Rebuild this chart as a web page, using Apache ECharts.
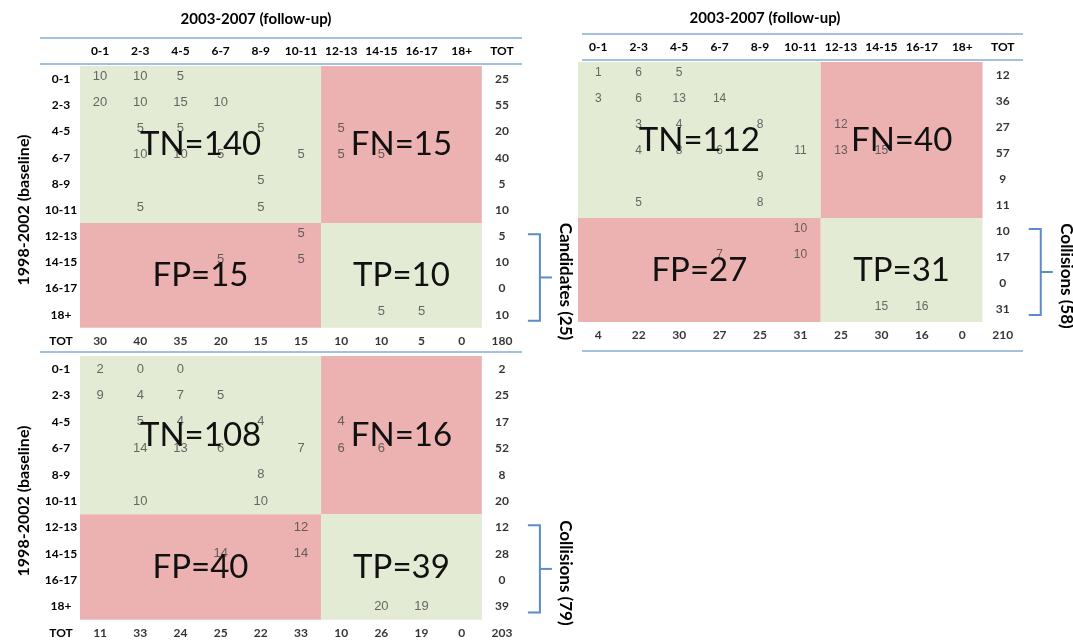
<!DOCTYPE html>
<html>
<head>
<meta charset="utf-8">
<script src="https://cdn.jsdelivr.net/npm/echarts@6.0.0/dist/echarts.min.js"></script>
<style>
  html, body { margin: 0; padding: 0; background: #fff; }
  #main { width: 1073px; height: 643px; }
</style>
</head>
<body>
<div id="main"></div>
<script>
var _ = null;

// age bands used for both axes (follow-up columns, baseline rows)
var ageBands = ['0-1', '2-3', '4-5', '6-7', '8-9', '10-11', '12-13', '14-15', '16-17', '18+', 'TOT'];
var followUpTitle = '2003-2007 (follow-up)';
var baselineTitle = '1998-2002 (baseline)';
var quadNames = ['TN', 'FN', 'FP', 'TP'];

// table 1 (top left)
var cellsA = [
  [10, 10, 5, _, _, _, _, _, _, _],
  [20, 10, 15, 10, _, _, _, _, _, _],
  [_, 5, 5, _, 5, _, 5, _, _, _],
  [_, 10, 10, 5, _, 5, 5, 5, _, _],
  [_, _, _, _, 5, _, _, _, _, _],
  [_, 5, _, _, 5, _, _, _, _, _],
  [_, _, _, _, _, 5, _, _, _, _],
  [_, _, _, 5, _, 5, _, _, _, _],
  [_, _, _, _, _, _, _, _, _, _],
  [_, _, _, _, _, _, _, 5, 5, _]
];
var rowTotA = [25, 55, 20, 40, 5, 10, 5, 10, 0, 10];
var colTotA = [30, 40, 35, 20, 15, 15, 10, 10, 5, 0];
var grandA = 180;
var quadA = [140, 15, 15, 10];
var braceA = 'Candidates (25)';

// table 2 (top right)
var cellsB = [
  [1, 6, 5, _, _, _, _, _, _, _],
  [3, 6, 13, 14, _, _, _, _, _, _],
  [_, 3, 4, _, 8, _, 12, _, _, _],
  [_, 4, 8, 6, _, 11, 13, 15, _, _],
  [_, _, _, _, 9, _, _, _, _, _],
  [_, 5, _, _, 8, _, _, _, _, _],
  [_, _, _, _, _, 10, _, _, _, _],
  [_, _, _, 7, _, 10, _, _, _, _],
  [_, _, _, _, _, _, _, _, _, _],
  [_, _, _, _, _, _, _, 15, 16, _]
];
var rowTotB = [12, 36, 27, 57, 9, 11, 10, 17, 0, 31];
var colTotB = [4, 22, 30, 27, 25, 31, 25, 30, 16, 0];
var grandB = 210;
var quadB = [112, 40, 27, 31];
var braceB = 'Collisions (58)';

// table 3 (bottom left)
var cellsC = [
  [2, 0, 0, _, _, _, _, _, _, _],
  [9, 4, 7, 5, _, _, _, _, _, _],
  [_, 5, 4, _, 4, _, 4, _, _, _],
  [_, 14, 13, 6, _, 7, 6, 6, _, _],
  [_, _, _, _, 8, _, _, _, _, _],
  [_, 10, _, _, 10, _, _, _, _, _],
  [_, _, _, _, _, 12, _, _, _, _],
  [_, _, _, 14, _, 14, _, _, _, _],
  [_, _, _, _, _, _, _, _, _, _],
  [_, _, _, _, _, _, _, 20, 19, _]
];
var rowTotC = [2, 25, 17, 52, 8, 20, 12, 28, 0, 39];
var colTotC = [11, 33, 24, 25, 22, 33, 10, 26, 19, 0];
var grandC = 203;
var quadC = [108, 16, 40, 39];
var braceC = 'Collisions (79)';

// quadrant blocks in category indices: [c0, r0, c1, r1]
var quadBlocks = [[0, 0, 5, 5], [6, 0, 9, 5], [0, 6, 5, 9], [6, 6, 9, 9]];
var quadFill = ['#e3ebd4', '#ecb2b1', '#ecb2b1', '#e3ebd4'];
var braceRows = [6, 9];

var tables = [
  { cells: cellsA, rowTot: rowTotA, colTot: colTotA, grand: grandA, quad: quadA, brace: braceA,
    grid: { left: 80, top: 66, width: 442, height: 288 }, showX: true, showY: true, cellFont: 13, dy: -3 },
  { cells: cellsB, rowTot: rowTotB, colTot: colTotB, grand: grandB, quad: quadB, brace: braceB,
    grid: { left: 578, top: 62, width: 445, height: 286 }, showX: true, showY: false, cellFont: 12, dy: -2 },
  { cells: cellsC, rowTot: rowTotC, colTot: colTotC, grand: grandC, quad: quadC, brace: braceC,
    grid: { left: 80, top: 356, width: 442, height: 290 }, showX: false, showY: true, cellFont: 13, dy: 0 }
];

var headFont = 'Lato, "Open Sans", sans-serif';
var cellFontFamily = '"Liberation Sans", Arial, sans-serif';

var grids = [], xAxes = [], yAxes = [], series = [];

tables.forEach(function (t, i) {
  grids.push(Object.assign({ outerBoundsMode: 'none', containLabel: false }, t.grid));

  xAxes.push({
    type: 'category', gridIndex: i, position: 'top', data: ageBands,
    axisLine: { show: false }, axisTick: { show: false }, splitLine: { show: false },
    axisLabel: { show: t.showX, interval: 0, margin: 9, fontWeight: 'bold', fontSize: 12,
      color: '#000', fontFamily: headFont }
  });

  yAxes.push({
    type: 'category', gridIndex: i, inverse: true, data: ageBands,
    axisLine: { show: false }, axisTick: { show: false }, splitLine: { show: false },
    axisLabel: { show: t.showY, interval: 0, align: 'center', margin: 19, fontWeight: 'bold',
      fontSize: 12, color: '#000', fontFamily: headFont },
    name: t.showY ? baselineTitle : '', nameLocation: 'middle', nameRotate: 90, nameGap: 48,
    nameTextStyle: { fontWeight: 'bold', fontSize: 16, color: '#000', fontFamily: headFont }
  });

  // coloured quadrants
  series.push({
    type: 'custom', xAxisIndex: i, yAxisIndex: i, z: 1, silent: true, clip: false,
    encode: { x: [0, 2], y: [1, 3] },
    data: quadBlocks,
    renderItem: function (params, api) {
      var a = api.coord([api.value(0), api.value(1)]);
      var b = api.coord([api.value(2), api.value(3)]);
      var s = api.size([1, 1]);
      return {
        type: 'rect',
        shape: { x: a[0] - s[0] / 2, y: a[1] - s[1] / 2, width: b[0] - a[0] + s[0], height: b[1] - a[1] + s[1] },
        style: { fill: quadFill[params.dataIndex] }
      };
    }
  });

  // cell counts
  var pts = [];
  t.cells.forEach(function (row, r) {
    row.forEach(function (v, c) { if (v !== null) pts.push([c, r, v]); });
  });
  series.push({
    type: 'scatter', xAxisIndex: i, yAxisIndex: i, z: 3, silent: true,
    symbolSize: 1, itemStyle: { color: 'rgba(0,0,0,0)' },
    label: { show: true, position: 'inside', offset: [0, t.dy], color: '#454545',
      fontSize: t.cellFont, fontFamily: cellFontFamily,
      formatter: function (p) { return p.value[2]; } },
    data: pts
  });

  // totals
  var tots = t.rowTot.map(function (v, r) { return [10, r, v]; })
    .concat(t.colTot.map(function (v, c) { return [c, 10, v]; }))
    .concat([[10, 10, t.grand]]);
  series.push({
    type: 'scatter', xAxisIndex: i, yAxisIndex: i, z: 3, silent: true,
    symbolSize: 1, itemStyle: { color: 'rgba(0,0,0,0)' },
    label: { show: true, position: 'inside', color: '#000', fontWeight: 'bold',
      fontSize: 12, fontFamily: headFont,
      formatter: function (p) { return p.value[2]; } },
    data: tots
  });

  // big quadrant labels
  series.push({
    type: 'custom', xAxisIndex: i, yAxisIndex: i, z: 5, silent: true, clip: false,
    encode: { x: [0, 2], y: [1, 3] },
    data: quadBlocks,
    renderItem: function (params, api) {
      var a = api.coord([api.value(0), api.value(1)]);
      var b = api.coord([api.value(2), api.value(3)]);
      return {
        type: 'text',
        x: (a[0] + b[0]) / 2, y: (a[1] + b[1]) / 2,
        style: { text: quadNames[params.dataIndex] + '=' + t.quad[params.dataIndex],
          fill: '#111', fontSize: 33, fontFamily: headFont, align: 'center', verticalAlign: 'middle' }
      };
    }
  });

  // brace + caption
  series.push({
    type: 'custom', xAxisIndex: i, yAxisIndex: i, z: 4, silent: true, clip: false,
    encode: { x: 0, y: [1, 2] },
    data: [[10, braceRows[0], braceRows[1]]],
    renderItem: function (params, api) {
      var p0 = api.coord([api.value(0), api.value(1)]);
      var p1 = api.coord([api.value(0), api.value(2)]);
      var x0 = p0[0] + 26, x1 = x0 + 12, x2 = x1 + 12;
      var yt = p0[1] - 2, yb = p1[1] + 6, ym = (yt + yb) / 2;
      var st = { stroke: '#5b8cc8', lineWidth: 2, fill: null };
      return {
        type: 'group',
        children: [
          { type: 'polyline', shape: { points: [[x0, yt], [x1, yt], [x1, yb], [x0, yb]] }, style: st },
          { type: 'line', shape: { x1: x1, y1: ym, x2: x2, y2: ym }, style: st },
          { type: 'text', x: p0[0] + 64, y: ym + 4, rotation: -Math.PI / 2,
            style: { text: t.brace, fill: '#000', fontSize: 17, fontWeight: 'bold', fontFamily: headFont,
              align: 'center', verticalAlign: 'middle' } }
        ]
      };
    }
  });
});

var rule = { stroke: '#a3c0de', lineWidth: 2 };
var chart = echarts.init(document.getElementById('main'));
chart.setOption({
  backgroundColor: '#fff',
  animation: false,
  grid: grids,
  xAxis: xAxes,
  yAxis: yAxes,
  series: series,
  graphic: [
    { type: 'text', x: 256, y: 19, style: { text: followUpTitle, fill: '#000', fontSize: 15, fontWeight: 'bold', fontFamily: headFont, align: 'center', verticalAlign: 'middle' } },
    { type: 'text', x: 765, y: 18, style: { text: followUpTitle, fill: '#000', fontSize: 15, fontWeight: 'bold', fontFamily: headFont, align: 'center', verticalAlign: 'middle' } },
    { type: 'line', shape: { x1: 40, y1: 38, x2: 522, y2: 38 }, style: rule },
    { type: 'line', shape: { x1: 40, y1: 64, x2: 522, y2: 64 }, style: rule },
    { type: 'line', shape: { x1: 40, y1: 352, x2: 522, y2: 352 }, style: rule },
    { type: 'line', shape: { x1: 582, y1: 34, x2: 1023, y2: 34 }, style: rule },
    { type: 'line', shape: { x1: 582, y1: 60, x2: 1023, y2: 60 }, style: rule },
    { type: 'line', shape: { x1: 582, y1: 351, x2: 1023, y2: 351 }, style: rule }
  ]
});
</script>
</body>
</html>
